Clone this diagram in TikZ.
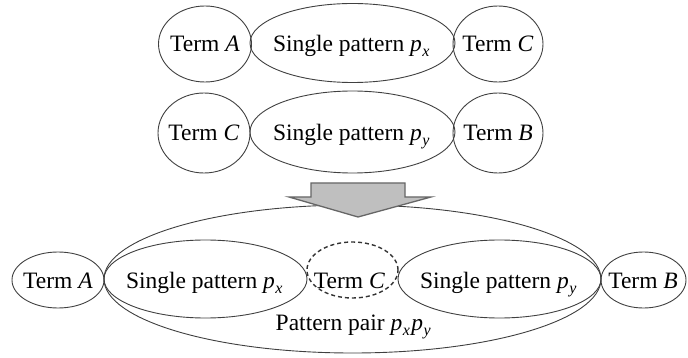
\documentclass[tikz,border=0pt]{standalone}
\usepackage{fontspec}
\setmainfont{Liberation Serif}
\usetikzlibrary{shapes.geometric}
\newcommand\patsub[2]{\textit{#1}\kern0.5pt\raisebox{-5pt}{\fontsize{16}{16}\selectfont\textit{#2}}\kern1.5pt}
\tikzset{
  ell/.style={ellipse, draw=black!75, line width=0.9pt, inner sep=0pt, outer sep=0pt},
  dashell/.style={ellipse, draw=black!80, line width=1.4pt, dash pattern=on 4pt off 3pt, inner sep=0pt},
  txt/.style={anchor=base, inner sep=0pt, font=\fontsize{23.5}{26}\selectfont},
  bigarrow/.style={fill=black!25, draw=black!60, line width=1.3pt, line join=miter}
}
\begin{document}
\begin{tikzpicture}[x=1pt,y=-1pt]
\useasboundingbox (0,0) rectangle (688,358);
% top row
\node[ell, minimum width=93pt, minimum height=76pt] (eA1) at (205,44) {};
\node[ell, minimum width=205pt, minimum height=79pt] (ePx1) at (352.5,43) {};
\node[ell, minimum width=90pt, minimum height=76pt] (eC1) at (498,44) {};
\node[txt] (tA1) at (205,52) {Term \textit{A}};
\node[txt] (tPx1) at (352,52) {Single pattern \patsub{p}{x}};
\node[txt] (tC1) at (498,52) {Term \textit{C}};
% second row
\node[ell, minimum width=92pt, minimum height=80pt] (eC2) at (204,133) {};
\node[ell, minimum width=205pt, minimum height=82pt] (ePy2) at (352.5,132) {};
\node[ell, minimum width=90pt, minimum height=80pt] (eB2) at (498,133) {};
\node[txt] (tC2) at (204,141) {Term \textit{C}};
\node[txt] (tPy2) at (352,141) {Single pattern \patsub{p}{y}};
\node[txt] (tB2) at (498,141) {Term \textit{B}};
% bottom
\node[ell, minimum width=497pt, minimum height=148pt] (ePair) at (352.5,279) {};
\filldraw[bigarrow] (311,183) -- (405,183) -- (405,197) -- (431,197) -- (358,217) -- (289,197) -- (311,197) -- cycle;
\node[ell, minimum width=92pt, minimum height=56pt] (eA3) at (58,280) {};
\node[ell, minimum width=203pt, minimum height=78pt] (ePx3) at (205.5,279) {};
\node[dashell, minimum width=91pt, minimum height=56pt] (eC3) at (352.5,270) {};
\node[ell, minimum width=203pt, minimum height=78pt] (ePy3) at (499.5,279) {};
\node[ell, minimum width=85pt, minimum height=56pt] (eB3) at (643.5,280) {};
\node[txt] (tA3) at (58,288) {Term \textit{A}};
\node[txt] (tPx3) at (205,288) {Single pattern \patsub{p}{x}};
\node[txt] (tC3) at (349.5,288) {Term \textit{C}};
\node[txt] (tPy3) at (499,288) {Single pattern \patsub{p}{y}};
\node[txt] (tB3) at (643,288) {Term \textit{B}};
\node[txt] (tPair) at (354,330) {Pattern pair \patsub{p}{x}\patsub{p}{y}};
\end{tikzpicture}
\end{document}
